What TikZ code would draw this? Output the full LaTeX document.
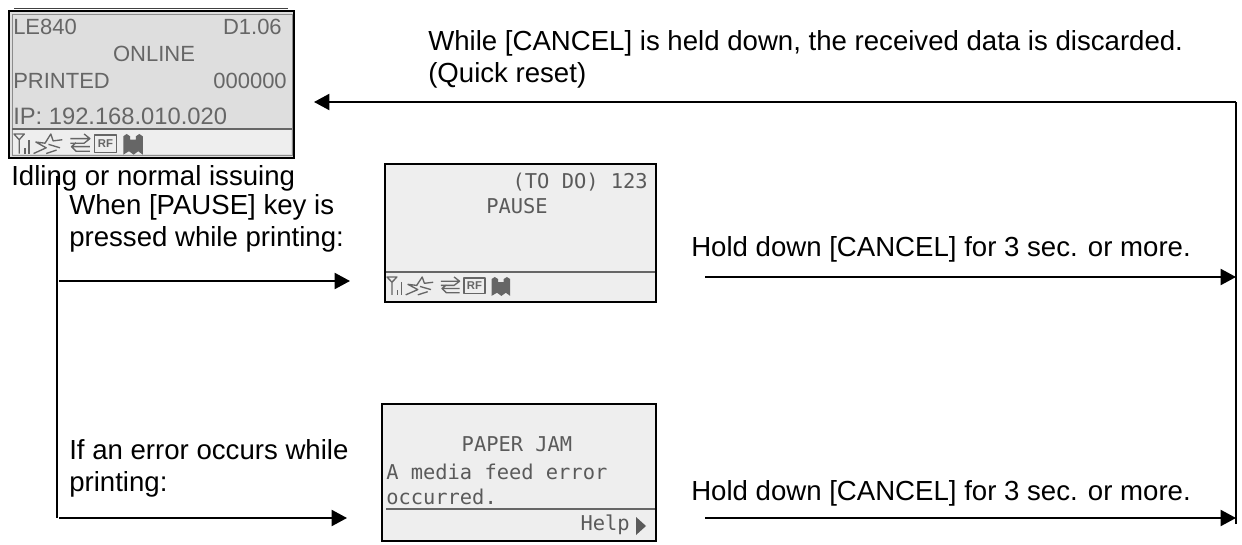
\documentclass[tikz,border=0pt]{standalone}
\usepackage{fontspec}
\setmainfont{Liberation Sans}
\newfontfamily\lcdmono{DejaVu Sans Mono}
\usetikzlibrary{arrows.meta}
\definecolor{lcdink}{HTML}{666666}
\definecolor{lcdmink}{HTML}{5A5A5A}
\definecolor{lcdbg}{HTML}{DEDEDE}
\definecolor{lcdbgb}{HTML}{EEEEEE}
\tikzset{
  x=0.75pt,y=-0.75pt,
  lbl/.style={font=\fontsize{20.7pt}{24.4pt}\selectfont,align=left,anchor=north west,inner sep=0pt,text=black},
  lcdsans/.style={font=\fontsize{16.5pt}{16.5pt}\selectfont,text=lcdink,inner sep=0pt},
  lcdm/.style={font=\lcdmono\fontsize{15.3pt}{15.3pt}\selectfont,text=lcdmink,inner sep=0pt},
  conn/.style={line width=1.5pt,-{Triangle[length=11.5pt,width=12pt]}},
  trunk/.style={line width=1.5pt},
  screenbox/.style={draw=black,line width=1.2pt},
  lcdline/.style={draw=lcdink,line width=1.2pt},
  ic/.style={draw=lcdink,line width=1pt,line join=round},
}
\newcommand{\lcdicons}[4]{%
\begin{scope}[shift={(#1,#2)},xscale=#3,yscale=#4]
  % antenna
  \draw[ic] (0,0) -- (9,0) -- (4.5,5) -- cycle (4.5,5) -- (4.5,17);
  \draw[ic] (9.5,17) -- (9.5,12) (13,17) -- (13,5);
  % burst
  \draw[ic] (17,17) -- (28,12) -- (19,7) -- (27,8) -- (32,0) -- (34,6) -- (42,5) (30,9) -- (40,12) (28,17) -- (37,14);
  % arrows
  \draw[ic] (49,4) -- (66,4) (61,0) -- (66,4) -- (61,8) -- (49,8) (66,11) -- (50,11) (54,7.5) -- (50,11) -- (54,15) -- (66,15);
  % RF
  \draw[ic] (70,1) rectangle (89,16);
  % ribbon
  \fill[lcdink] (95,2) -- (98,0) -- (101,2) -- (101,5) -- (106,5) -- (106,2) -- (109,0) -- (112,2) -- (112,18) -- (108,15) -- (104,18) -- (100,15) -- (95,18) -- cycle;
\end{scope}
\node[font=\fontsize{8.5pt}{8.5pt}\selectfont\bfseries,text=lcdink,inner sep=0pt] at ({#1+79.5*#3},{#2+8.5*#4}) {RF};}
\begin{document}
\begin{tikzpicture}
\useasboundingbox (0,0) rectangle (1242,545);

% Screen 1
\draw[black!75,line width=0.8pt] (14,8.5) -- (288,8.5);
\path[screenbox,fill=lcdbg] (9,11) rectangle (294,158);
\draw[black!45,line width=0.7pt] (12,14) rectangle (292,155);
\path[fill=lcdbgb] (13,130) rectangle (291,154.5);
\draw[lcdline] (12,129) -- (292,129);
\node[lcdsans,anchor=west] (s1a) at (13,27) {LE840};
\node[lcdsans,anchor=east] (s1b) at (282,27) {D1.06};
\node[lcdsans] (s1c) at (154,54) {ONLINE};
\node[lcdsans,anchor=west] (s1d) at (13,81) {PRINTED};
\node[lcdsans,anchor=east] (s1e) at (287,81) {000000};
\node[lcdsans,anchor=west,font=\fontsize{17.8pt}{17.8pt}\selectfont] (s1f) at (13,116) {IP: 192.168.010.020};
\lcdicons{14}{134}{1.15}{1.15}
\node[lbl] (cap1) at (11,165) {Idling or normal issuing};

% Screen 2
\path[screenbox,fill=lcdbgb] (385,164) rectangle (656,302);
\draw[lcdline] (386,272) -- (655,272);
\node[lcdm,anchor=east] (s2a) at (648,182) {(TO DO) 123};
\node[lcdm] (s2b) at (517,206) {PAUSE};
\lcdicons{387}{277}{1.1}{1.05}

% Screen 3
\path[screenbox,fill=lcdbgb] (382,404) rectangle (656,541);
\draw[lcdline] (386,509) -- (655,509);
\node[lcdm] (s3a) at (517,444) {PAPER JAM};
\node[lcdm,anchor=west] (s3b) at (386,472) {A media feed error};
\node[lcdm,anchor=west] (s3c) at (386,497) {occurred.};
\node[lcdm,anchor=east] (s3d) at (630,525) {Help};
\fill[lcdmink] (636,517) -- (646,526) -- (636,535) -- cycle;

% Labels
\node[lbl] (t1) at (428,30) {While [CANCEL] is held down, the received data is discarded.\\(Quick reset)};
\node[lbl] (t2) at (69,194) {When [PAUSE] key is\\pressed while printing:};
\node[lbl] (t3) at (691,236) {Hold down [CANCEL] for 3 sec. or more.};
\node[lbl] (t4) at (69,439) {If an error occurs while\\printing:};
\node[lbl] (t5) at (691,480) {Hold down [CANCEL] for 3 sec. or more.};

% Connectors
\coordinate (rt) at (1236,102);
\coordinate (rm) at (1236,277);
\coordinate (rb) at (1236,518);
\coordinate (rend) at (1236,524);
\coordinate (back) at (314,102);
\coordinate (lt) at (57,176);
\coordinate (lm) at (59,281);
\coordinate (lb) at (59,518);
\coordinate (lc) at (57,518);
\coordinate (p1) at (350,281);
\coordinate (e1) at (347,518);
\coordinate (p2) at (705,277);
\coordinate (e2) at (705,518);
\draw[trunk] (lt) -- (lc);
\draw[conn] (lm) -- (p1);
\draw[conn] (lb) -- (e1);
\draw[trunk] (rend) -- (rt);
\draw[conn] (rt) -- (back);
\draw[conn] (p2) -- (rm);
\draw[conn] (e2) -- (rb);
\end{tikzpicture}
\end{document}
